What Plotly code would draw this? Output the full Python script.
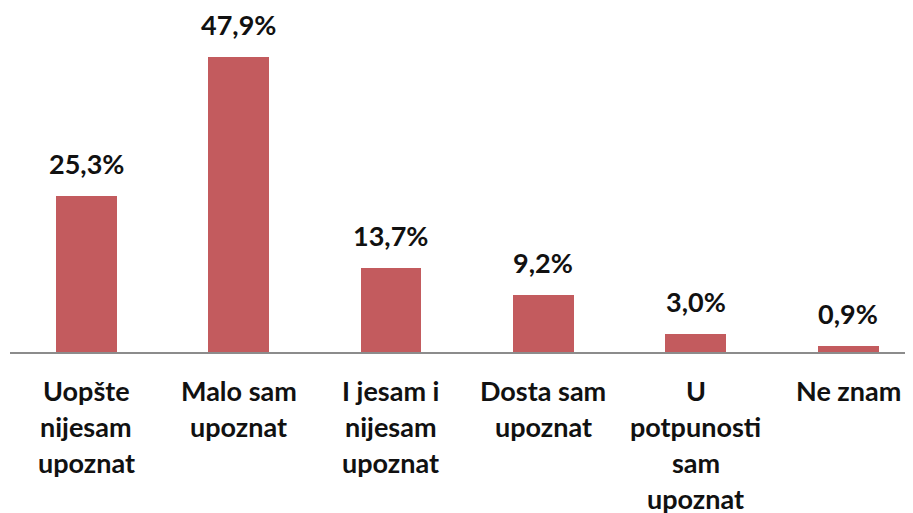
import plotly.graph_objects as go

categories = ["Uopšte<br>nijesam<br>upoznat", "Malo sam<br>upoznat", "I jesam i<br>nijesam<br>upoznat",
              "Dosta sam<br>upoznat", "U<br>potpunosti<br>sam<br>upoznat", "Ne znam"]
values = [25.3, 47.9, 13.7, 9.2, 3.0, 0.9]
value_labels = [f"{v:.1f}%".replace(".", ",") for v in values]

FONT = "Lato"
FS = 27
fig = go.Figure()
fig.add_trace(go.Bar(
    x=list(range(len(categories))), y=values,
    marker=dict(color="#C35B5E", line=dict(width=0)),
    width=0.4,
))
for i, (v, t) in enumerate(zip(values, value_labels)):
    fig.add_annotation(x=i, y=v, text=t, showarrow=False, yanchor="bottom",
                       yshift=14, font=dict(family=FONT, size=FS, color="#111111", weight="bold"))
# category labels, one line each with wider line spacing
for i, cat in enumerate(categories):
    for k, line in enumerate(cat.split("<br>")):
        fig.add_annotation(x=i, xref="x", y=0, yref="paper", text=line, showarrow=False,
                           yanchor="top", yshift=-20 - 36 * k,
                           font=dict(family=FONT, size=FS, color="#111111", weight="bold"))

fig.update_layout(
    width=913, height=513,
    margin=dict(l=2, r=0, t=36, b=169),
    paper_bgcolor="white", plot_bgcolor="white",
    showlegend=False,
    bargap=0,
    xaxis=dict(
        range=[-0.5, 5.478], showgrid=False, zeroline=False, automargin=False,
        showline=True, linecolor="#8C8C8C", linewidth=1.5, ticks="", showticklabels=False,
    ),
    yaxis=dict(range=[0, 50], visible=False, showgrid=False, zeroline=False, automargin=False),
)
fig.write_html("out.html")
